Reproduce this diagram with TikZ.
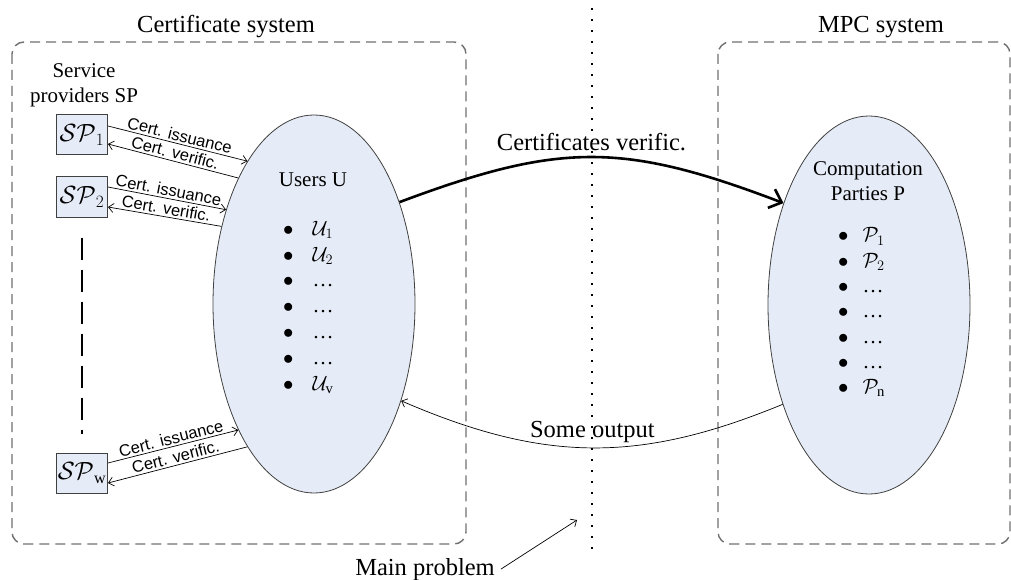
\documentclass[tikz,border=0pt]{standalone}
\usepackage{fontspec}
\setmainfont{Liberation Serif}
\setsansfont{Liberation Sans}
\usepackage{amsmath}
\usepackage{amssymb}
\usepackage{tikz}
\usetikzlibrary{arrows.meta,shapes.geometric,positioning}
\definecolor{fillblue}{HTML}{E6ECF7}
\definecolor{boxline}{HTML}{404040}
\definecolor{dashgray}{HTML}{707070}

\begin{document}
\begin{tikzpicture}
	[x=1pt, y=-1pt, inner sep=0pt,
	title/.style	= {font=\fontsize{24.5}{29}\selectfont, anchor=base},
	party/.style	= {ellipse, draw=boxline, fill=fillblue, line width=0.8pt, minimum width=202pt, minimum height=378pt},
	provider/.style	= {rectangle, draw=boxline, fill=fillblue, line width=1pt, minimum width=51pt, minimum height=40pt, font=\fontsize{23}{27}\selectfont},
	heading/.style	= {align=center, font=\fontsize{21}{25}\selectfont},
	members/.style	= {anchor=north west},
	system/.style	= {draw=dashgray, line width=1.4pt, dash pattern=on 10pt off 6pt, rounded corners=12pt},
	divider/.style	= {line width=1.6pt, dash pattern=on 1.6pt off 9.4pt},
	dashline/.style	= {line width=1.3pt, dash pattern=on 22pt off 10pt},
	paths/.style	= {->, >={Straight Barb[length=5pt,width=9pt]}, line width=0.7pt},
	verify/.style	= {->, >={Straight Barb[length=11pt,width=20pt]}, line width=2.6pt},
	cert/.style		= {font=\fontsize{16.5}{20}\selectfont\sffamily, sloped, midway, above=2pt}]
	
	\useasboundingbox (0,0) rectangle (1011,580);
	
	\node at (226,33)	[title]		(certtitle)	{Certificate system};
	\node at (881,33)	[title]		(mpctitle)	{MPC system};
	\node at (425,575)	[title]		(mainprob)	{Main problem};
	
	\draw [system] (12,42) rectangle (466,544);
	\draw [system] (718,42) rectangle (1010,544);
	\draw [divider] (592,8) -- (592,551);
	
	\node at (314,304)	[party]		(users)		{};
	\node at (869,305)	[party]		(parties)	{};
	
	\node at (313,180)	[heading]	(usershead)	{Users U};
	\node at (868,181)	[heading]	(partyhead)	{Computation\\Parties P};
	\node at (84,85)	[heading]	(sphead)	{Service\\providers SP};
	
	\node at (283,217) [members] (userlist) {\fontsize{21}{25.8}\selectfont
		\begin{tabular}{@{}l@{\hspace{19pt}}l@{}}
		$\bullet$ & $\mathcal{U}_{1}$\\
		$\bullet$ & $\mathcal{U}_{2}$\\
		$\bullet$ & \ldots\\
		$\bullet$ & \ldots\\
		$\bullet$ & \ldots\\
		$\bullet$ & \ldots\\
		$\bullet$ & $\mathcal{U}_{\mathrm{v}}$
		\end{tabular}};
	\node at (838,224) [members] (partylist) {\fontsize{21}{25.3}\selectfont
		\begin{tabular}{@{}l@{\hspace{14pt}}l@{}}
		$\bullet$ & $\mathcal{P}_{1}$\\
		$\bullet$ & $\mathcal{P}_{2}$\\
		$\bullet$ & \ldots\\
		$\bullet$ & \ldots\\
		$\bullet$ & \ldots\\
		$\bullet$ & \ldots\\
		$\bullet$ & $\mathcal{P}_{\mathrm{n}}$
		\end{tabular}};
	
	\node at (82,135)	[provider]	(sp1)	{$\mathcal{SP}_{1}$};
	\node at (82,197)	[provider]	(sp2)	{$\mathcal{SP}_{2}$};
	\node at (82,473)	[provider]	(spw)	{$\mathcal{SP}_{\mathrm{w}}$};
	
	\draw [dashline, shorten <=20pt, shorten >=19pt] (sp2.south) -- (spw.north);
	
	\draw [paths] ([yshift=9pt]sp1.east) -- (users.115) node [cert] {Cert. issuance};
	\draw [paths, <-] ([yshift=-9pt]sp1.east) -- (users.121) node [cert] {Cert. verific.};
	\draw [paths] ([yshift=10pt]sp2.east) -- (users.133) node [cert] {Cert. issuance};
	\draw [paths, <-] ([yshift=-10pt]sp2.east) -- (users.140) node [cert] {Cert. verific.};
	\draw [paths] ([yshift=10pt]spw.east) -- (users.239) node [cert] {Cert. issuance};
	\draw [paths, <-] ([yshift=-10pt]spw.east) -- (users.245) node [cert] {Cert. verific.};
	
	\draw [verify] (users.50) .. controls (560,142) and (623,142) .. (parties.130)
		node [midway, above=5pt, font=\fontsize{24.5}{29}\selectfont] (verlabel) {Certificates verific.};
	\draw [paths] (parties.229) .. controls (640,463) and (545,463) .. (users.312)
		node [midway, above=4.7pt, font=\fontsize{24.5}{29}\selectfont] (outlabel) {Some output};
	
	\coordinate (problem) at (577,520);
	\draw [paths] ([xshift=6pt]mainprob.east) -- (problem);
\end{tikzpicture}
\end{document}
